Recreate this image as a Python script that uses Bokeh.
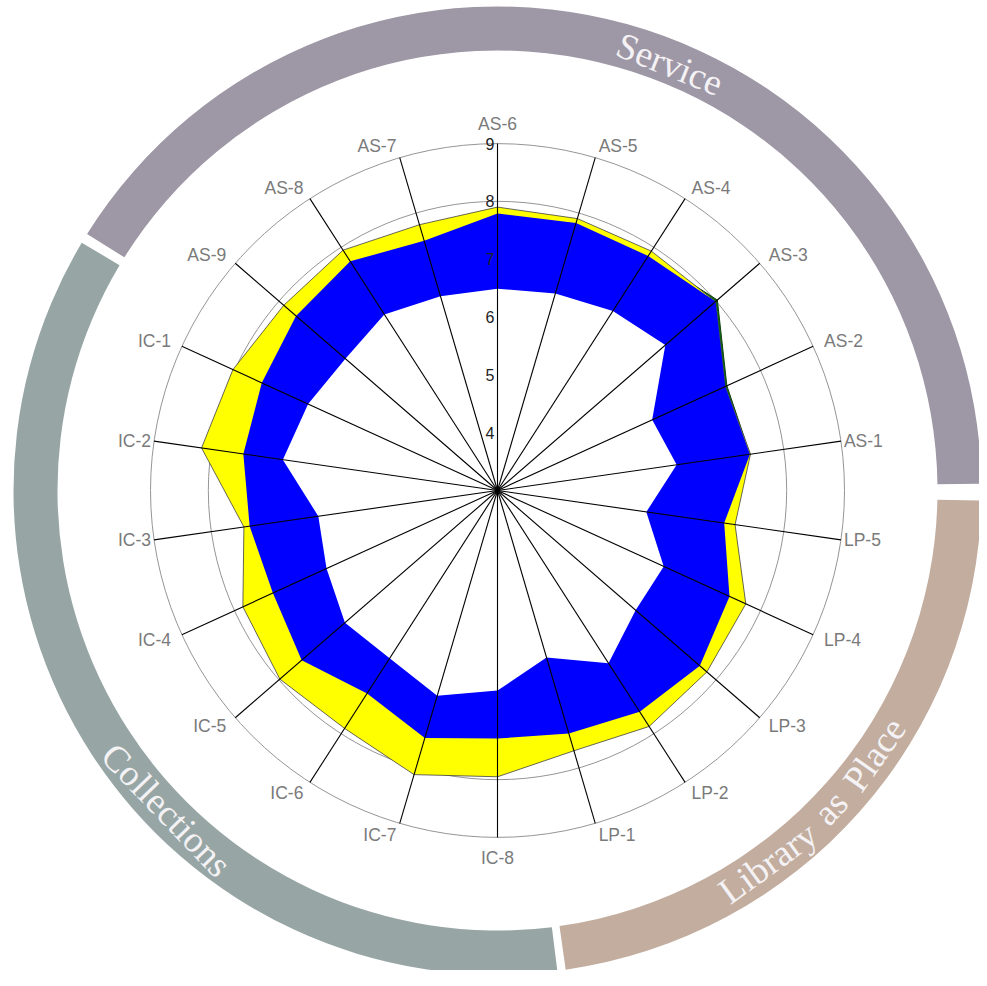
import math
from bokeh.plotting import figure
from bokeh.models import Range1d
from bokeh.core.properties import value
from bokeh.embed import file_html
from bokeh.resources import INLINE

# ---------------- data ----------------
categories = ["AS-6", "AS-5", "AS-4", "AS-3", "AS-2", "AS-1", "LP-5", "LP-4", "LP-3", "LP-2", "LP-1",
              "IC-8", "IC-7", "IC-6", "IC-5", "IC-4", "IC-3", "IC-2", "IC-1", "AS-9", "AS-8", "AS-7"]
minimum = [6.49, 6.55, 6.69, 6.84, 5.94, 6.13, 5.60, 6.16, 6.16, 6.55, 6.01,
           6.46, 6.70, 6.45, 6.49, 6.25, 6.13, 6.75, 6.60, 6.48, 6.62, 6.50]
perceived = [7.79, 7.82, 7.82, 8.03, 7.36, 7.41, 6.96, 7.41, 7.63, 7.55, 7.38,
             7.29, 7.46, 7.17, 7.48, 7.27, 7.33, 7.44, 7.48, 7.61, 7.71, 7.50]
desired = [7.90, 7.90, 7.92, 7.99, 7.33, 7.42, 7.15, 7.72, 7.79, 7.85, 7.69,
           7.95, 8.12, 7.89, 7.98, 7.84, 7.43, 8.17, 8.03, 7.89, 7.94, 7.79]
tick_values = [4, 5, 6, 7, 8, 9]
scale_min, scale_max = 3, 9

dimensions = ["Service", "Collections", "Library as Place"]
# arc extents, degrees clockwise from top
dim_start = [302.0, 172.9, 91.2]
dim_end = [89.2, 300.8, 171.9]
dim_colors = ["#9e97a6", "#97a6a5", "#c2ad9f"]

# ---------------- layout ----------------
W, H = 979, 970
CX, CY = 497, 490          # centre in figure pixels
U = 347.0 / (scale_max - scale_min)   # pixels per unit
R_IN, R_OUT = 440, 484

p = figure(width=W, height=H, output_backend="svg", toolbar_location=None,
           x_range=Range1d(-CX, W - CX), y_range=Range1d(-(H - CY), CY),
           x_axis_type=None, y_axis_type=None, min_border=0)
p.grid.visible = False
p.outline_line_color = None
p.background_fill_color = "white"

n = len(categories)
ang = [2 * math.pi * i / n for i in range(n)]   # clockwise from top


def pt(v, a):
    r = (v - scale_min) * U
    return r * math.sin(a), r * math.cos(a)


# outer ring
for s, e, c in zip(dim_start, dim_end, dim_colors):
    p.annular_wedge(x=0, y=0, inner_radius=R_IN, outer_radius=R_OUT,
                    start_angle=math.radians(90 - e), end_angle=math.radians(90 - s),
                    fill_color=c, line_color=None)

# grid circles
for t in tick_values:
    p.circle(x=0, y=0, radius=(t - scale_min) * U, fill_color=None,
             line_color="#959595", line_width=1)


def poly(vals):
    xs, ys = [], []
    for v, a in zip(vals, ang):
        x, y = pt(v, a)
        xs.append(x)
        ys.append(y)
    return xs, ys


gx, gy = poly(perceived)
p.patch(gx, gy, fill_color="#0a6a0a", line_color="#104010", line_width=1)
dx, dy = poly(desired)
p.patch(dx, dy, fill_color="#ffff00", line_color="#404040", line_width=0.8)
bx, by = poly([min(a, b) for a, b in zip(perceived, desired)])
p.patch(bx, by, fill_color="#0000ff", line_color=None)
mx, my = poly(minimum)
p.patch(mx, my, fill_color="white", line_color=None)

# spokes
R9 = (scale_max - scale_min) * U
p.segment(x0=[0] * n, y0=[0] * n,
          x1=[R9 * math.sin(a) for a in ang], y1=[R9 * math.cos(a) for a in ang],
          line_color="black", line_width=1.1)

# tick labels
p.text(x=[-3] * len(tick_values), y=[(t - scale_min) * U for t in tick_values],
       text=[str(t) for t in tick_values], text_align="right", text_baseline="middle",
       text_font=value("Liberation Sans"), text_font_size="16px", text_color="#222222")

# category labels
lx, ly, la = [], [], []
for a in ang:
    s = math.sin(a)
    r = R9 + 12 if abs(s) < 0.95 else R9 + 3
    if abs(s) < 0.05:
        r = R9 + 20
    lx.append(r * s)
    ly.append(r * math.cos(a))
    if abs(s) < 0.05:
        la.append("center")
    elif s > 0:
        la.append("left")
    else:
        la.append("right")
for al in ["center", "left", "right"]:
    idx = [i for i in range(n) if la[i] == al]
    p.text(x=[lx[i] for i in idx], y=[ly[i] for i in idx], text=[categories[i] for i in idx],
           text_align=al, text_baseline="middle", text_font=value("Liberation Sans"),
           text_font_size="17.5px", text_color="#7a7a7a")

# ring titles, word by word along the arc
R_TXT = 460
word_specs = [
    # word, angle clockwise from top (deg), top faces outward?
    ("Service", 22.0, True),
    ("Collections", 226.0, False),
    ("Library", 144.0, False),
    ("as", 133.6, False),
    ("Place", 125.0, False),
]
for w, deg, outward in word_specs:
    a = math.radians(deg)
    x, y = R_TXT * math.sin(a), R_TXT * math.cos(a)
    rot = -a if outward else -(a - math.pi)
    p.text(x=[x], y=[y], text=[w], angle=rot, text_align="center", text_baseline="middle",
           text_font=value("Liberation Serif"), text_font_size="37px", text_color="#f4f2f4")

open("out.html", "w").write(file_html(p, INLINE))
